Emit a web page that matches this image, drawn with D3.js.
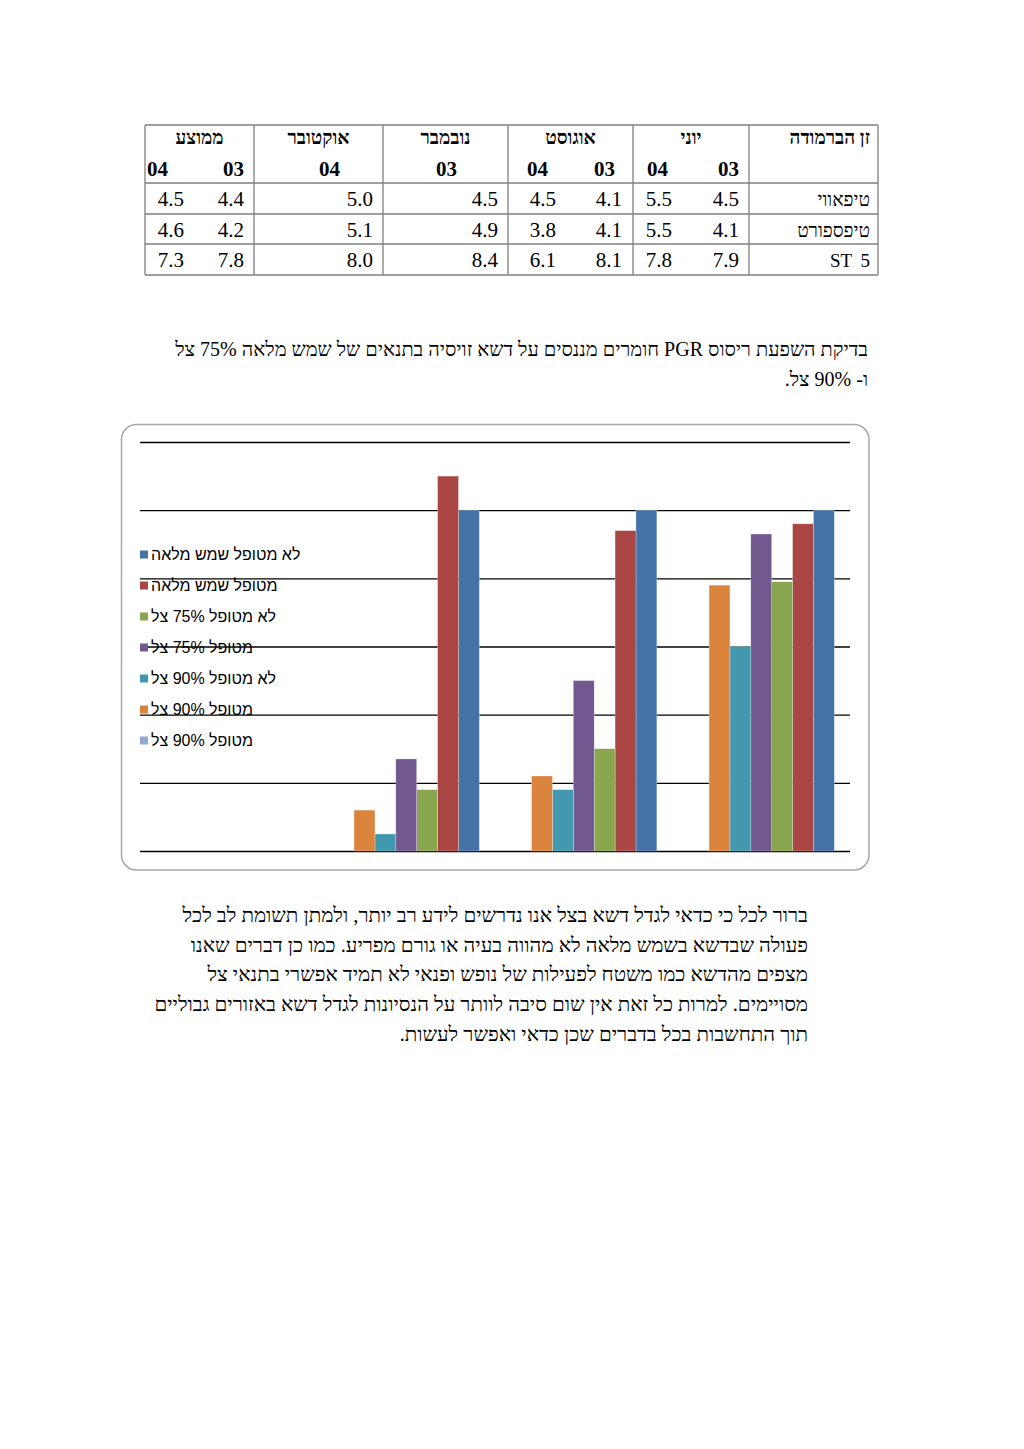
<!DOCTYPE html>
<html lang="he">
<head>
<meta charset="utf-8">
<script src="https://cdn.jsdelivr.net/npm/d3@7"></script>
<style>
  html, body { margin: 0; padding: 0; background: #fff; }
  svg { display: block; }
</style>
</head>
<body>
<div id="page"></div>
<script>
// --- table data (right to left, as in the document) ---
var tableHead = "זן הברמודה";
var tableMonths = ["יוני", "אוגוסט", "נובמבר", "אוקטובר", "ממוצע"];
var tableYears = [["03", "04"], ["03", "04"], ["03"], ["04"], ["03", "04"]];
var cultivars = ["טיפאווי", "טיפספורט", "ST 5"];
var tableValues = [
  [[4.5, 5.5], [4.1, 4.5], [4.5], [5.0], [4.4, 4.5]],
  [[4.1, 5.5], [4.1, 3.8], [4.9], [5.1], [4.2, 4.6]],
  [[7.9, 7.8], [8.1, 6.1], [8.4], [8.0], [7.8, 7.3]]
];

// --- text of the page ---
var introLines = [
  "בדיקת השפעת ריסוס PGR חומרים מננסים על דשא זויסיה בתנאים של שמש מלאה 75% צל",
  "ו- 90% צל."
];
var bodyLines = [
  "ברור לכל כי כדאי לגדל דשא בצל אנו נדרשים לידע רב יותר, ולמתן תשומת לב לכל",
  "פעולה שבדשא בשמש מלאה לא מהווה בעיה או גורם מפריע. כמו כן דברים שאנו",
  "מצפים מהדשא כמו משטח לפעילות של נופש ופנאי לא תמיד אפשרי בתנאי צל",
  "מסויימים. למרות כל זאת אין שום סיבה לוותר על הנסיונות לגדל דשא באזורים גבוליים",
  "תוך התחשבות בכל בדברים שכן כדאי ואפשר לעשות."
];

// --- chart data (categories left to right, first one is empty) ---
var categories = ["4", "3", "2", "1"];
var seriesNames = [
  "לא מטופל שמש מלאה",
  "מטופל שמש מלאה",
  "לא מטופל 75% צל",
  "מטופל 75% צל",
  "לא מטופל 90% צל",
  "מטופל 90% צל",
  "מטופל 90% צל "
];
var fullSunUntreated = [null, 100, 100, 100];
var fullSunTreated   = [null, 110, 94, 96];
var shade75Untreated = [null, 18, 30, 79];
var shade75Treated   = [null, 27, 50, 93];
var shade90Untreated = [null, 5, 18, 60];
var shade90Treated   = [null, 12, 22, 78];
var shade90Treated2  = [null, 0, 0, 0];
var yTicks = [0, 20, 40, 60, 80, 100, 120];

var seriesValues = [fullSunUntreated, fullSunTreated, shade75Untreated,
  shade75Treated, shade90Untreated, shade90Treated, shade90Treated2];
var colors = ["#4572A7", "#AA4643", "#89A54E", "#71588F", "#4198AF", "#DB843D", "#93A9CF"];

var serif = "'Liberation Serif', 'Times New Roman', serif";
var sans = "'Liberation Sans', Arial, sans-serif";

var svg = d3.select("#page").append("svg")
  .attr("width", 1024)
  .attr("height", 1449);
svg.append("rect").attr("width", 1024).attr("height", 1449).attr("fill", "#fff");

// ---------------- table ----------------
// column borders, right to left: label column first
var colEdges = [878, 749, 633, 508, 383, 254, 145];
var subRight = [[739, 672], [622, 556], [498], [373], [244, 184]];
var headRight = [[739, 668], [615, 548], [457], [340], [244, 168]];
var rowEdges = [125, 183, 214, 244, 275];

var tbl = svg.append("g").attr("class", "table");
tbl.selectAll("line.h").data(rowEdges).enter().append("line")
  .attr("x1", 145).attr("x2", 878)
  .attr("y1", function(d) { return d; }).attr("y2", function(d) { return d; })
  .attr("stroke", "#7f7f7f").attr("stroke-width", 1.3);
tbl.selectAll("line.v").data(colEdges).enter().append("line")
  .attr("y1", 125).attr("y2", 275)
  .attr("x1", function(d) { return d; }).attr("x2", function(d) { return d; })
  .attr("stroke", "#7f7f7f").attr("stroke-width", 1.3);

tbl.append("text")
  .attr("x", 870).attr("y", 144)
  .attr("direction", "rtl").attr("text-anchor", "start")
  .style("font", "bold 19px " + serif)
  .text(tableHead);

tableMonths.forEach(function(m, i) {
  var cx = (colEdges[i + 1] + colEdges[i + 2]) / 2;
  tbl.append("text")
    .attr("x", cx).attr("y", 144)
    .attr("direction", "rtl").attr("text-anchor", "middle")
    .style("font", "bold 19px " + serif)
    .text(m);
  tableYears[i].forEach(function(yr, j) {
    tbl.append("text")
      .attr("x", headRight[i][j]).attr("y", 176)
      .attr("text-anchor", "end")
      .style("font", "bold 21px " + serif)
      .text(yr);
  });
});

cultivars.forEach(function(c, r) {
  var base = rowEdges[r + 1] + 23;
  tbl.append("text")
    .attr("x", 870).attr("y", base)
    .attr("direction", "rtl").attr("text-anchor", "start")
    .style("font", "19px " + serif)
    .style("word-spacing", "4px")
    .text(c);
  tableValues[r].forEach(function(vals, i) {
    vals.forEach(function(v, j) {
      tbl.append("text")
        .attr("x", subRight[i][j]).attr("y", base)
        .attr("text-anchor", "end")
        .style("font", "21px " + serif)
        .text(d3.format(".1f")(v));
    });
  });
});

// ---------------- paragraphs ----------------
svg.append("g").selectAll("text").data(introLines).enter().append("text")
  .attr("x", 868)
  .attr("y", function(d, i) { return 356 + i * 30; })
  .attr("direction", "rtl").attr("text-anchor", "start")
  .style("font", "20px " + serif)
  .text(function(d) { return d; });

svg.append("g").selectAll("text").data(bodyLines).enter().append("text")
  .attr("x", 808)
  .attr("y", function(d, i) { return 922 + i * 29.7; })
  .attr("direction", "rtl").attr("text-anchor", "start")
  .style("font", "20.5px " + serif)
  .text(function(d) { return d; });

// ---------------- chart ----------------
svg.append("rect")
  .attr("x", 121.5).attr("y", 424.5)
  .attr("width", 747.5).attr("height", 445.5)
  .attr("rx", 15).attr("ry", 15)
  .attr("fill", "#fff")
  .attr("stroke", "#a6a6a6").attr("stroke-width", 1.5);

var plot = { left: 140, right: 850, top: 442, bottom: 851 };

var x0 = d3.scaleBand()
  .domain(categories)
  .range([plot.left, plot.right])
  .paddingInner(1.5 / 8.5)
  .paddingOuter(0.75 / 8.5);
// bars run in reverse legend order, left to right
var x1 = d3.scaleBand()
  .domain(d3.range(seriesNames.length).reverse())
  .range([0, x0.bandwidth()]);
var y = d3.scaleLinear().domain([0, 120]).range([plot.bottom, plot.top]);

var grid = svg.append("g")
  .attr("transform", "translate(" + plot.left + ",0)")
  .call(d3.axisLeft(y).tickValues(yTicks).tickSize(-(plot.right - plot.left)).tickFormat(""));
grid.select(".domain").remove();
grid.selectAll(".tick line").attr("stroke", "#000").attr("stroke-width", 1.3);

var cells = [];
categories.forEach(function(c, ci) {
  seriesValues.forEach(function(vals, si) {
    if (vals[ci] != null && vals[ci] > 0) cells.push({ cat: c, s: si, v: vals[ci] });
  });
});

svg.append("g").selectAll("rect").data(cells).enter().append("rect")
  .attr("x", function(d) { return x0(d.cat) + x1(d.s); })
  .attr("y", function(d) { return y(d.v); })
  .attr("width", x1.bandwidth())
  .attr("height", function(d) { return y(0) - y(d.v); })
  .attr("fill", function(d) { return colors[d.s]; })
  .attr("stroke", "#fff").attr("stroke-opacity", 0.45).attr("stroke-width", 0.6);

var legend = svg.append("g").selectAll("g").data(seriesNames).enter().append("g")
  .attr("transform", function(d, i) { return "translate(140," + (554.5 + i * 31) + ")"; });
legend.append("rect")
  .attr("x", 0).attr("y", -4).attr("width", 8).attr("height", 8)
  .attr("fill", function(d, i) { return colors[i]; });
legend.append("text")
  .attr("x", 11).attr("y", 5.5)
  .attr("direction", "rtl").attr("text-anchor", "end")
  .style("font", "16px " + sans)
  .attr("fill", "#000")
  .text(function(d) { return d.trim(); });
</script>
</body>
</html>
